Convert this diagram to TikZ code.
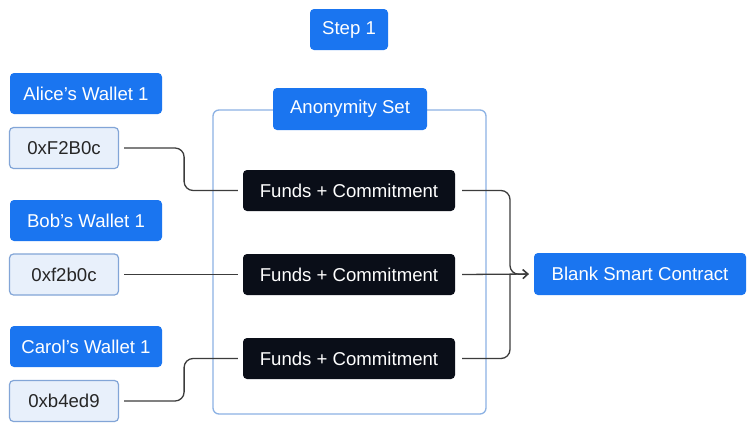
\documentclass[tikz,border=0pt]{standalone}
\usepackage{fontspec}
\setmainfont{Liberation Sans}
\usetikzlibrary{arrows.meta}
\definecolor{bblue}{RGB}{26,117,240}
\definecolor{lfill}{RGB}{232,240,251}
\definecolor{lborder}{RGB}{130,165,215}
\definecolor{dark}{RGB}{10,14,24}
\definecolor{frame}{RGB}{140,178,228}
\definecolor{linec}{RGB}{60,60,60}
\begin{document}
\begin{tikzpicture}[x=1pt,y=-1pt,
  base/.style={rounded corners=4pt, inner sep=0pt, font=\fontsize{18.6}{21}\selectfont, anchor=center},
  bluebox/.style={base, fill=bblue, text=white},
  addrbox/.style={base, fill=lfill, draw=lborder, line width=1.2pt, text=black!85},
  darkbox/.style={base, fill=dark, text=white, minimum width=212pt, minimum height=41pt},
  conn/.style={draw=linec, line width=1.3pt, rounded corners=9pt}
]
\useasboundingbox[fill=white] (0,0) rectangle (750,429);
\draw[frame, line width=1.3pt, rounded corners=6pt] (213,110) rectangle (486,414);
\node[bluebox, minimum width=78pt, minimum height=41pt] (step) at (349,29.5) {Step 1};
\node[bluebox, minimum width=154pt, minimum height=42pt] (anon) at (350,109) {Anonymity Set};
\node[bluebox, minimum width=152pt, minimum height=41pt] (aw) at (86,93.5) {Alice’s Wallet 1};
\node[bluebox, minimum width=152pt, minimum height=41pt] (bw) at (86,220.5) {Bob’s Wallet 1};
\node[bluebox, minimum width=152pt, minimum height=41pt] (cw) at (86,346.5) {Carol’s Wallet 1};
\node[addrbox, minimum width=109pt, minimum height=41pt] (a1) at (64,148) {0xF2B0c};
\node[addrbox, minimum width=109pt, minimum height=41pt] (b1) at (64,274.5) {0xf2b0c};
\node[addrbox, minimum width=109pt, minimum height=41pt] (c1) at (64,401) {0xb4ed9};
\node[darkbox] (f1) at (349,190.5) {Funds + Commitment};
\node[darkbox] (f2) at (349,274.5) {Funds + Commitment};
\node[darkbox] (f3) at (349,358.5) {Funds + Commitment};
\node[bluebox, minimum width=212pt, minimum height=42pt] (bsc) at (640,274) {Blank Smart Contract};
\coordinate (j) at (510,274.5);
\draw[conn] ([xshift=5pt]a1.east) -- ++(60,0) |- ([xshift=-5pt]f1.west);
\draw[conn] ([xshift=5pt]b1.east) -- ([xshift=-5pt]f2.west);
\draw[conn] ([xshift=5pt]c1.east) -- ++(60,0) |- ([xshift=-5pt]f3.west);
\draw[conn, -{Straight Barb[length=5pt,width=9pt]}] ([xshift=7pt]f1.east) -| (j) -- ([xshift=-5pt]bsc.west);
\draw[conn] ([xshift=7pt]f3.east) -| (j);
\draw[conn, -{Straight Barb[length=5pt,width=9pt]}] ([xshift=7pt]f2.east) -- ([xshift=-5pt]bsc.west);
\end{tikzpicture}
\end{document}
